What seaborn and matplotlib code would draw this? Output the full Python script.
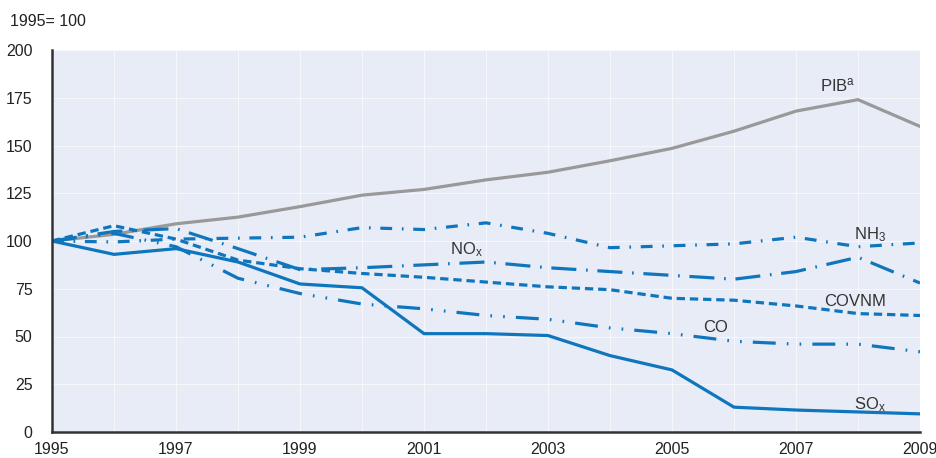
import numpy as np
import pandas as pd
import matplotlib
matplotlib.use("Agg")
import matplotlib.pyplot as plt
import seaborn as sns

years = list(range(1995, 2010))
pib   = [100, 103.5, 109, 112.5, 118, 124, 127, 132, 136, 142, 148.5, 157.5, 168, 174, 160]
nh3   = [100, 99.5, 101, 101.5, 102, 107, 106, 109.5, 104, 96.5, 97.5, 98.5, 102, 97, 99]
nox   = [100, 105, 106.5, 96, 85, 86, 87.5, 89, 86, 84, 82, 80, 84, 91.5, 78]
covnm = [100, 108, 101, 90, 85.5, 83, 81, 78.5, 76, 74.5, 70, 69, 66, 62, 61]
co    = [100, 104, 97, 80.5, 72.5, 67, 64.5, 61, 59, 54.5, 51.5, 47.5, 46, 46, 42]
sox   = [100, 93, 96, 89, 77.5, 75.5, 51.5, 51.5, 50.5, 40, 32.5, 13, 11.5, 10.5, 9.5]

yticks = [0, 25, 50, 75, 100, 125, 150, 175, 200]
xlabels = [1995, 1997, 1999, 2001, 2003, 2005, 2007, 2009]

BLUE = "#0f76bd"
GRAY = "#999999"

sns.set_theme(style="white")
plt.rcParams["font.family"] = ["Liberation Sans", "DejaVu Sans"]
plt.rcParams["mathtext.fontset"] = "custom"
plt.rcParams["mathtext.rm"] = "Liberation Sans"
plt.rcParams["mathtext.it"] = "Liberation Sans"
plt.rcParams["lines.scale_dashes"] = False

fs_tick = 11.5
fs_lab = 12

fig = plt.figure(figsize=(9.37, 4.58), dpi=100)
ax = fig.add_axes([52/937, 1-432/458, 868/937, 382/458])
ax.set_facecolor("#e8ecf7")

series = [
    ("PIB", pib, GRAY, "-"),
    ("NH3", nh3, BLUE, (0, (8.5, 7, 1.2, 7))),
    ("NOx", nox, BLUE, (0, (18, 7, 1.2, 7))),
    ("COVNM", covnm, BLUE, (0, (6, 3.5))),
    ("CO", co, BLUE, (0, (16.5, 8, 1.2, 8, 1.2, 8))),
    ("SOx", sox, BLUE, "-"),
]
for name, vals, col, ls in series:
    df = pd.DataFrame({"year": years, "value": vals})
    sns.lineplot(data=df, x="year", y="value", ax=ax, color=col, linestyle=ls,
                 linewidth=2.3, solid_joinstyle="miter", dash_capstyle="butt")

ax.set_xlim(1995, 2009)
ax.set_ylim(0, 200)
ax.set_xticks(years)
ax.set_xticklabels([str(y) if y in xlabels else "" for y in years])
ax.set_yticks(yticks)
ax.set_yticklabels([str(v) for v in yticks])
ax.set_xlabel("")
ax.set_ylabel("")
ax.grid(True, color="white", linewidth=0.7, alpha=0.6)
ax.set_axisbelow(True)
for s in ["top", "right"]:
    ax.spines[s].set_visible(False)
for s in ["left", "bottom"]:
    ax.spines[s].set_color("#333333")
    ax.spines[s].set_linewidth(1.8)
ax.tick_params(axis="both", direction="in", length=4, width=1, color="#333333",
               labelsize=fs_tick, labelcolor="#222222")
ax.tick_params(axis="y", pad=14)
ax.tick_params(axis="x", pad=7)

tc = "#333333"
ax.text(2007.68, 181.5, "PIB$^{\\mathrm{a}}$", ha="center", va="center", fontsize=fs_lab, color=tc)
ax.text(2008.2, 103.5, "NH$_{\\mathrm{3}}$", ha="center", va="center", fontsize=fs_lab, color=tc)
ax.text(2001.68, 95.5, "NO$_{\\mathrm{x}}$", ha="center", va="center", fontsize=fs_lab, color=tc)
ax.text(2007.95, 68.5, "COVNM", ha="center", va="center", fontsize=fs_lab, color=tc)
ax.text(2005.7, 54.5, "CO", ha="center", va="center", fontsize=fs_lab, color=tc)
ax.text(2008.2, 14.5, "SO$_{\\mathrm{x}}$", ha="center", va="center", fontsize=fs_lab, color=tc)

fig.text(10/937, 1-22/458, "1995= 100", ha="left", va="center", fontsize=fs_tick, color="#222222")

fig.savefig("out.png", dpi=100)
